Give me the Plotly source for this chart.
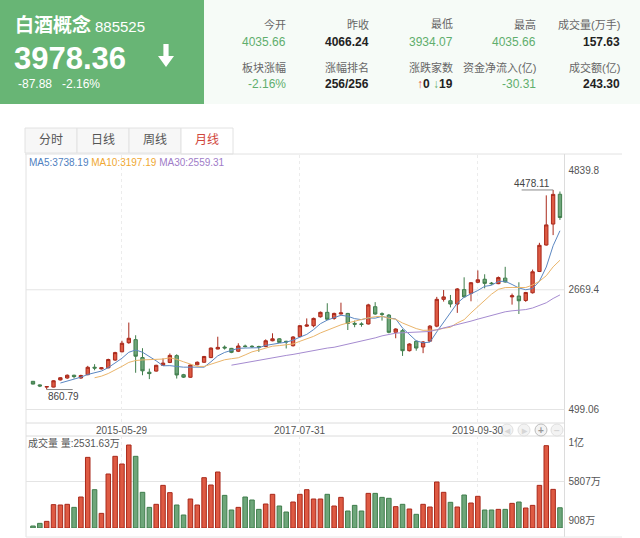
import plotly.graph_objects as go
import pandas as pd

W, H = 640, 538

# ---------------- data (monthly K-line, 2014-04 .. 2020-09) ----------------
months = pd.period_range("2014-04", periods=78, freq="M").strftime("%Y-%m").tolist()

opens = [1010, 945, 905, 905, 1035, 1070, 1120, 1070, 1130, 1265,
         1235, 1255, 1395, 1545, 1710, 1765, 1440, 1175, 1195, 1300,
         1352, 1475, 1130, 1083, 1310, 1355, 1440, 1595, 1630, 1607,
         1555, 1650, 1645, 1640, 1640, 1745, 1780, 1735, 1655, 1820,
         2010, 2018, 2180, 2260, 2150, 2230, 2240, 2060, 2050, 2049,
         2362, 2235, 2210, 1898, 1928, 1565, 1735, 1632, 1738, 2010,
         2495, 2470, 2410, 2672, 2605, 2805, 2860, 2790, 2780, 2880,
         2540, 2555, 2475, 2615, 3000, 3480, 3860, 4400]
highs = [1015, 955, 925, 1030, 1085, 1135, 1130, 1130, 1290, 1320,
         1265, 1420, 1545, 1745, 2075, 1845, 1610, 1240, 1310, 1425,
         1515, 1500, 1145, 1320, 1370, 1470, 1625, 1818, 1660, 1615,
         1700, 1675, 1665, 1655, 1770, 1880, 1790, 1745, 1830, 2030,
         2150, 2165, 2275, 2425, 2255, 2435, 2250, 2110, 2080, 2415,
         2445, 2260, 2230, 1970, 1960, 1700, 1750, 1740, 2030, 2540,
         2665, 2575, 2700, 2895, 2810, 3020, 2950, 2810, 2910, 3085,
         2600, 2805, 2630, 3035, 3520, 4380, 4478.11, 4450]
lows = [955, 905, 860.79, 900, 1025, 1055, 1060, 1055, 1120, 1210,
        1225, 1245, 1380, 1535, 1690, 1165, 1120, 1050, 1185, 1290,
        1340, 1060, 1070, 1075, 1300, 1345, 1430, 1590, 1585, 1520,
        1540, 1625, 1615, 1545, 1630, 1735, 1710, 1605, 1640, 1810,
        1995, 1990, 2165, 2120, 2125, 2220, 1940, 1990, 2000, 2040,
        2215, 2110, 1880, 1790, 1470, 1550, 1565, 1520, 1730, 1990,
        2455, 2350, 2250, 2530, 2460, 2790, 2695, 2760, 2770, 2800,
        2400, 2230, 2450, 2600, 2990, 3470, 3660, 3935]
closes = [960, 925, 915, 1020, 1075, 1120, 1095, 1115, 1264, 1250,
          1255, 1405, 1530, 1700, 1790, 1465, 1200, 1150, 1300, 1340,
          1480, 1125, 1085, 1305, 1355, 1460, 1612, 1625, 1615, 1535,
          1650, 1640, 1638, 1630, 1745, 1780, 1715, 1725, 1813, 2018,
          2030, 2150, 2260, 2135, 2240, 2250, 2060, 2045, 2042, 2395,
          2230, 2225, 1898, 1958, 1565, 1686, 1613, 1723, 2010, 2496,
          2540, 2410, 2684, 2540, 2797, 2850, 2785, 2780, 2890, 2810,
          2560, 2470, 2620, 2995, 3475, 3845, 4398, 3978.36]
volumes = [250, 580, 830, 2920, 2875, 2960, 2580, 3875, 8830, 4790,
           1830, 6750, 8960, 8000, 10375, 8960, 4460, 2580, 2960, 5330,
           4420, 2875, 1625, 3625, 2875, 6290, 5375, 7000, 4080, 2250,
           2580, 3875, 3500, 2330, 3000, 4210, 2750, 2000, 3250, 4210,
           4790, 3625, 3625, 4210, 2750, 3830, 2125, 2830, 2125, 4330,
           4330, 3830, 3710, 2670, 2960, 2375, 1710, 2960, 2625, 5750,
           4460, 3210, 2625, 4125, 3125, 3960, 2250, 2250, 2330, 2330,
           3080, 3250, 2500, 2830, 5330, 10290, 4830, 2531.63]

date_tick_idx = [13, 39, 65]
date_tick_text = ["2015-05-29", "2017-07-31", "2019-09-30"]
price_ticks = [499.06, 2669.4, 4839.8]
price_tick_text = ["499.06", "2669.4", "4839.8"]
vol_ticks = [908, 5807, 10706]
vol_tick_text = ["908万", "5807万", "1亿"]
ma_legend = ["MA5:3738.19", "MA10:3197.19", "MA30:2559.31"]

hdr_labels_1 = ["今开", "昨收", "最低", "最高", "成交量(万手)"]
hdr_values_1 = ["4035.66", "4066.24", "3934.07", "4035.66", "157.63"]
hdr_labels_2 = ["板块涨幅", "涨幅排名", "涨跌家数", "资金净流入(亿)", "成交额(亿)"]
hdr_values_2 = ["-2.16%", "256/256", None, "-30.31", "243.30"]
hdr_value_green = [[True, False, True, True, False], [True, False, False, True, False]]
tabs = ["分时", "日线", "周线", "月线"]

# ---------------- helpers ----------------
def px(x):
    return x / W

def py(y):
    return 1 - y / H

FONT = "Liberation Sans, Arial, Noto Sans CJK SC, sans-serif"
RED_F, RED_L = "#de5a43", "#a9291b"
GRN_F, GRN_L = "#6ea67a", "#3f7d4b"
GREEN_TXT = "#5fae6d"
GRID = "#e4e4e4"

idx = list(range(len(closes)))
cs = pd.Series(closes)
ma5 = cs.rolling(5).mean()
ma10 = cs.rolling(10).mean()
ma30 = cs.rolling(30).mean()

# price axis calibration: 4839.8 at y=170px, 499.06 at y=409.5px
k = (4839.8 - 499.06) / (409.5 - 170)
p_top = 4839.8 + (170 - 155) * k
p_bot = 499.06 - (423 - 409.5) * k
# volume calibration: 125 (万) per pixel, zero at 528px
v_top = (528 - 436) * 125

# x calibration: candle 0 at 33px, step 6.85px, frame 26..565
step = 6.85
x_lo = (26 - 33) / step
x_hi = (565 - 33) / step

fig = go.Figure()

fig.add_trace(go.Candlestick(
    x=idx, open=opens, high=highs, low=lows, close=closes,
    increasing=dict(fillcolor=RED_F, line=dict(color=RED_L, width=1)),
    decreasing=dict(fillcolor=GRN_F, line=dict(color=GRN_L, width=1)),
    whiskerwidth=0, hoverinfo="skip", xaxis="x", yaxis="y", showlegend=False))

for ma, col in [(ma5, "#5b87c2"), (ma10, "#eab56b"), (ma30, "#a58bd0")]:
    fig.add_trace(go.Scatter(x=idx, y=ma, mode="lines", line=dict(color=col, width=1),
                             hoverinfo="skip", showlegend=False, xaxis="x", yaxis="y"))

vcol = [RED_F if c > o else GRN_F for o, c in zip(opens, closes)]
vline = [RED_L if c > o else GRN_L for o, c in zip(opens, closes)]
fig.add_trace(go.Bar(x=idx, y=volumes, marker=dict(color=vcol, line=dict(color=vline, width=1)),
                     width=0.66, hoverinfo="skip", showlegend=False, xaxis="x2", yaxis="y2"))

shapes = []
ann = []

def rect(x0, y0, x1, y1, fill, line=None, lw=1):
    shapes.append(dict(type="rect", xref="paper", yref="paper", x0=px(x0), x1=px(x1),
                       y0=py(y1), y1=py(y0), fillcolor=fill,
                       line=dict(color=line or fill, width=lw if line else 0), layer="below"))

def hline(y, x0, x1, color=GRID, dash="solid"):
    shapes.append(dict(type="line", xref="paper", yref="paper", x0=px(x0), x1=px(x1),
                       y0=py(y), y1=py(y), line=dict(color=color, width=1, dash=dash), layer="below"))

def vline_(x, y0, y1, color=GRID):
    shapes.append(dict(type="line", xref="paper", yref="paper", x0=px(x), x1=px(x),
                       y0=py(y0), y1=py(y1), line=dict(color=color, width=1), layer="below"))

def text(x, y, s, size=12, color="#333", xanchor="left", bold=False):
    ann.append(dict(xref="paper", yref="paper", x=px(x), y=py(y), text=("<b>%s</b>" % s) if bold else s,
                    showarrow=False, xanchor=xanchor, yanchor="middle", borderpad=0,
                    font=dict(family=FONT, size=size, color=color)))

# ---------------- header ----------------
rect(204, 0, 640, 104, "#f6fbf7")
rect(0, 0, 204, 104, "#68b575")
text(14, 25, "白酒概念", 19, "white", bold=True)
text(94, 26, "885525", 15, "white")
text(13, 58, "3978.36", 31, "white", bold=True)
# down arrow
ax = 166
arrow = ("M {a},{b} L {c},{b} L {c},{d} L {e},{d} L {f},{g} L {h},{d} L {i},{d} Z").format(
    a=px(ax - 2.6), b=py(44), c=px(ax + 2.6), d=py(56), e=px(ax + 8), f=px(ax), g=py(67),
    h=px(ax - 8), i=px(ax - 2.6))
shapes.append(dict(type="path", xref="paper", yref="paper", path=arrow, fillcolor="white",
                   line=dict(color="white", width=0)))
text(17, 84, "-87.88", 12, "white")
text(61, 84, "-2.16%", 12, "white")

col_right = [287, 370, 454, 537, 621]
for j, xr in enumerate(col_right):
    text(xr, 24, hdr_labels_1[j], 11, "#666", "right")
    text(xr, 42, hdr_values_1[j], 12, GREEN_TXT if hdr_value_green[0][j] else "#222", "right",
         bold=not hdr_value_green[0][j])
    text(xr, 67, hdr_labels_2[j], 11, "#666", "right")
    if hdr_values_2[j] is None:
        s = ('<b><span style="color:#e0503c">↑</span>0 <span style="color:#5fae6d">↓</span>19</b>')
        text(xr, 84, s, 12, "#222", "right")
    else:
        text(xr, 84, hdr_values_2[j], 12, GREEN_TXT if hdr_value_green[1][j] else "#222", "right",
             bold=not hdr_value_green[1][j])

# ---------------- tabs & frame ----------------
tab_x = [25, 77, 129, 181, 233]
for j, t in enumerate(tabs):
    active = j == 3
    rect(tab_x[j], 128, tab_x[j + 1], 154 if active else 153, "white" if active else "#f7f7f7", "#e2e2e2")
    text((tab_x[j] + tab_x[j + 1]) / 2, 140, t, 12, "#d0463a" if active else "#555", "center")

hline(154, 233, 622, "#e2e2e2")
hline(154, 25, 233, "#e2e2e2")
vline_(26, 154, 537, "#e2e2e2")
vline_(564.5, 154, 537, "#dcdcdc")
hline(537, 26, 622, "#e8e8e8")
hline(409.5, 26, 564.5)
hline(423, 26, 564.5, "#dcdcdc")
hline(436, 26, 564.5, "#dcdcdc")

# gridlines in data coordinates
shapes.append(dict(type="line", xref="x", yref="y", x0=x_lo, x1=x_hi, y0=price_ticks[1], y1=price_ticks[1],
                   line=dict(color=GRID, width=1), layer="below"))
shapes.append(dict(type="line", xref="x2", yref="y2", x0=x_lo, x1=x_hi, y0=vol_ticks[1], y1=vol_ticks[1],
                   line=dict(color=GRID, width=1), layer="below"))

# MA legend
cols = ["#4f7fbf", "#f0a832", "#a07cc8"]
s = " ".join('<span style="color:%s">%s</span>' % (c, t) for c, t in zip(cols, ma_legend))
text(28, 163, s, 10, "#333")

# high / low marks
i_hi = highs.index(max(highs))
i_lo = lows.index(min(lows))
shapes.append(dict(type="line", xref="x", yref="y", x0=i_hi - 4.6, x1=i_hi, y0=highs[i_hi], y1=highs[i_hi],
                   line=dict(color="#888", width=1)))
ann.append(dict(xref="x", yref="y", x=i_hi - 0.3, y=highs[i_hi], text="%.2f" % highs[i_hi], showarrow=False,
                xanchor="right", yanchor="bottom", borderpad=0, font=dict(family=FONT, size=10, color="#444")))
shapes.append(dict(type="line", xref="x", yref="y", x0=i_lo, x1=i_lo + 3.8, y0=lows[i_lo], y1=lows[i_lo],
                   line=dict(color="#888", width=1)))
ann.append(dict(xref="x", yref="y", x=i_lo, y=lows[i_lo], text="%.2f" % lows[i_lo], showarrow=False,
                xanchor="left", yanchor="top", borderpad=0, font=dict(family=FONT, size=10, color="#444")))

# date labels
for i, t in zip(date_tick_idx, date_tick_text):
    ann.append(dict(xref="x", yref="paper", x=i, y=py(430), text=t, showarrow=False, xanchor="center",
                    yanchor="middle", borderpad=0, font=dict(family=FONT, size=10, color="#555")))

# nav buttons
for cx, g, dark in [(507, "◂", False), (524, "▸", False), (541, "+", True), (557, "−", False)]:
    shapes.append(dict(type="circle", xref="paper", yref="paper", x0=px(cx - 6), x1=px(cx + 6),
                       y0=py(436), y1=py(424), fillcolor="#f3f3f3",
                       line=dict(color="#bdbdbd" if dark else "#e0e0e0", width=1)))
    text(cx, 430, g, 10, "#999" if dark else "#d6d6d6", "center", bold=True)

text(27, 443, "成交量 量:2531.63万", 10, "#555")

axis_font = dict(family=FONT, size=10, color="#555")
fig.update_layout(
    width=W, height=H, margin=dict(l=0, r=0, t=0, b=0),
    paper_bgcolor="white", plot_bgcolor="rgba(0,0,0,0)",
    showlegend=False, shapes=shapes, annotations=ann, hovermode=False,
    xaxis=dict(domain=[px(26), px(564.5)], range=[x_lo, x_hi], anchor="y",
               tickvals=date_tick_idx, showticklabels=False, showgrid=True, gridcolor="#ececec",
               griddash="dot", zeroline=False, showline=False, ticks="",
               rangeslider=dict(visible=False), fixedrange=True),
    yaxis=dict(domain=[py(423), py(155)], range=[p_bot, p_top], anchor="x", side="right",
               tickvals=price_ticks, ticktext=price_tick_text, showgrid=False, zeroline=False,
               showline=False, ticks="", tickfont=axis_font, ticklabelstandoff=3),
    xaxis2=dict(domain=[px(26), px(564.5)], range=[x_lo, x_hi], anchor="y2", matches="x",
                tickvals=date_tick_idx, showticklabels=False, showgrid=True, gridcolor="#ececec",
                griddash="dot", zeroline=False, showline=False, ticks=""),
    yaxis2=dict(domain=[py(528), py(436)], range=[0, v_top], anchor="x2", side="right",
                tickvals=vol_ticks, ticktext=vol_tick_text, showgrid=False, zeroline=False,
                showline=False, ticks="", tickfont=axis_font, ticklabelstandoff=3),
)

fig.write_html("out.html")
